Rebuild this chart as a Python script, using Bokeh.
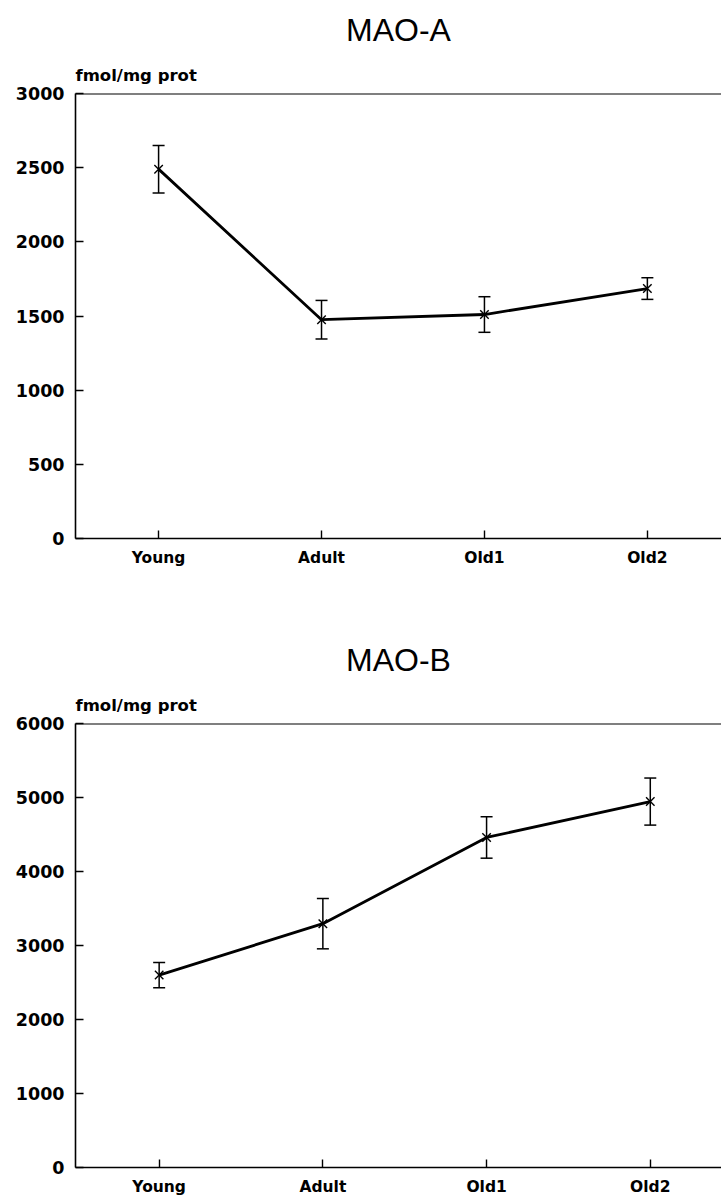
from bokeh.plotting import figure
from bokeh.models import (ColumnDataSource, Range1d, FixedTicker, Span, Title,
                          Whisker, TeeHead)
from bokeh.layouts import column
from bokeh.embed import file_html
from bokeh.resources import INLINE

# Age groups
groups = ["Young", "Adult", "Old1", "Old2"]
group_pos = [1, 2, 3, 4]

# MAO-A binding (fmol/mg prot), mean and SEM
mao_a_mean = [2490, 1475, 1510, 1685]
mao_a_sem = [160, 130, 120, 73]

# MAO-B binding (fmol/mg prot), mean and SEM
mao_b_mean = [2600, 3295, 4460, 4945]
mao_b_sem = [170, 340, 280, 318]

mao_a_ticks = [0, 500, 1000, 1500, 2000, 2500, 3000]
mao_b_ticks = [0, 1000, 2000, 3000, 4000, 5000, 6000]

TICK_FONT = "DejaVu Sans"
TITLE_FONT = "Liberation Sans"


def panel(title, means, sems, yticks, ymax, height, border_top, border_bottom,
          border_left, x_start, x_end):
    p = figure(width=721, height=height, output_backend="svg",
               toolbar_location=None, x_range=Range1d(x_start, x_end),
               y_range=Range1d(0, ymax), min_border_top=border_top,
               min_border_bottom=border_bottom, min_border_left=border_left,
               min_border_right=0)
    p.outline_line_color = None
    p.grid.visible = False
    p.background_fill_color = "white"
    p.border_fill_color = "white"

    for ax in (p.xaxis[0], p.yaxis[0]):
        ax.axis_line_width = 1.6
        ax.axis_line_color = "black"
        ax.major_tick_in = 8
        ax.major_tick_out = 0
        ax.major_tick_line_width = 1.4
        ax.major_tick_line_color = "black"
        ax.minor_tick_line_color = None
        ax.major_label_text_font = TICK_FONT
        ax.major_label_text_font_style = "bold"
        ax.major_label_text_color = "black"
        ax.major_label_text_font_size = "17.5px"

    p.xaxis.ticker = FixedTicker(ticks=group_pos)
    p.xaxis.major_label_overrides = {k: g for k, g in zip(group_pos, groups)}
    p.xaxis.major_label_standoff = 10
    p.xaxis.major_label_text_font_size = "15.5px"
    p.yaxis.ticker = FixedTicker(ticks=yticks)
    p.yaxis.major_label_standoff = 11

    # top frame edge
    p.add_layout(Span(location=ymax, dimension="width", line_color="black",
                      line_width=1.8))

    src = ColumnDataSource(dict(
        x=group_pos, y=means,
        upper=[m + s for m, s in zip(means, sems)],
        lower=[m - s for m, s in zip(means, sems)],
    ))
    p.line("x", "y", source=src, line_color="black", line_width=2.8)
    p.add_layout(Whisker(
        base="x", upper="upper", lower="lower", source=src,
        line_color="black", line_width=1.5,
        upper_head=TeeHead(size=12, line_color="black", line_width=1.5),
        lower_head=TeeHead(size=12, line_color="black", line_width=1.5),
    ))
    p.scatter("x", "y", source=src, marker="x", size=12, line_color="black",
              line_width=1.4)

    # unit label right above the frame, panel title above it
    p.add_layout(Title(text="fmol/mg prot", align="left", offset=0,
                       standoff=17, text_font=TICK_FONT,
                       text_font_style="bold", text_font_size="16.5px",
                       text_color="black"), "above")
    p.add_layout(Title(text=title, align="center", offset=3,
                       standoff=15, text_font=TITLE_FONT,
                       text_font_style="normal", text_font_size="32px",
                       text_color="black"), "above")
    return p


p1 = panel("MAO-A", mao_a_mean, mao_a_sem, mao_a_ticks, 3000,
           height=600, border_top=93, border_bottom=62, border_left=72,
           x_start=0.49, x_end=4.455)
p2 = panel("MAO-B", mao_b_mean, mao_b_sem, mao_b_ticks, 6000,
           height=599, border_top=123, border_bottom=32, border_left=75,
           x_start=0.489, x_end=4.435)

layout = column(p1, p2, spacing=0)
open("out.html", "w").write(file_html(layout, INLINE))
